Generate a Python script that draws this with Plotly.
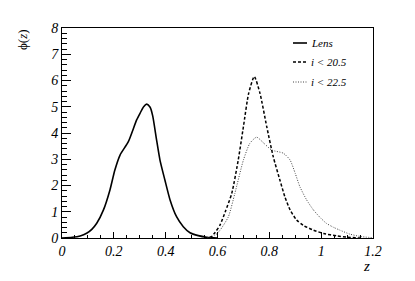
import plotly.graph_objects as go

# ---- data ----
lens_z = [0.0, 0.04, 0.07, 0.095, 0.115, 0.134, 0.16, 0.185, 0.204, 0.224, 0.256, 0.288,
          0.301, 0.315, 0.327, 0.34, 0.35, 0.365, 0.378, 0.397, 0.417, 0.442, 0.468,
          0.494, 0.526, 0.558, 0.6]
lens_phi = [0.0, 0.03, 0.08, 0.18, 0.33, 0.56, 1.07, 1.83, 2.59, 3.16, 3.67, 4.5,
            4.75, 5.0, 5.1, 4.98, 4.65, 3.73, 2.97, 2.21, 1.45, 0.81, 0.43,
            0.2, 0.09, 0.03, 0.0]

i205_z = [0.55, 0.575, 0.59, 0.61, 0.63, 0.655, 0.68, 0.70, 0.72, 0.742, 0.764, 0.79,
          0.815, 0.841, 0.86, 0.88, 0.905, 0.931, 0.97, 1.01, 1.06, 1.1, 1.15]
i205_phi = [0.0, 0.05, 0.2, 0.5, 1.0, 1.7, 2.97, 4.24, 5.5, 6.15, 5.51, 4.24,
            3.1, 2.2, 1.57, 1.07, 0.69, 0.48, 0.3, 0.17, 0.08, 0.03, 0.0]

i225_z = [0.56, 0.59, 0.61, 0.642, 0.667, 0.70, 0.725, 0.751, 0.78, 0.809, 0.854, 0.88,
          0.9, 0.918, 0.944, 0.97, 0.995, 1.02, 1.047, 1.072, 1.11, 1.15, 1.2]
i225_phi = [0.0, 0.1, 0.3, 0.81, 1.7, 2.97, 3.61, 3.84, 3.6, 3.35, 3.23, 2.97,
            2.46, 1.95, 1.45, 1.07, 0.79, 0.56, 0.41, 0.3, 0.15, 0.06, 0.01]

x_tickvals = [0, 0.2, 0.4, 0.6, 0.8, 1.0, 1.2]
x_ticktext = ["0", "0.2", "0.4", "0.6", "0.8", "1", "1.2"]
y_tickvals = [0, 1, 2, 3, 4, 5, 6, 7, 8]
y_ticktext = ["0", "1", "2", "3", "4", "5", "6", "7", "8"]

legend_labels = ["Lens", "i < 20.5", "i < 22.5"]

# ---- figure ----
W, H = 415, 281
L, R, T, B = 62, 42, 28, 43
pw, ph = W - L - R, H - T - B

SERIF = "Liberation Serif"

styles = [
    dict(color="black", width=1.6, dash="solid"),
    dict(color="black", width=1.5, dash="3px,2px"),
    dict(color="#444444", width=1.0, dash="1px,1.5px"),
]

fig = go.Figure()
for (zz, pp), st, name in zip([(lens_z, lens_phi), (i205_z, i205_phi), (i225_z, i225_phi)],
                             styles, legend_labels):
    fig.add_trace(go.Scatter(x=zz, y=pp, mode="lines", name=name,
                             line=dict(shape="spline", smoothing=0.6, **st),
                             showlegend=False, hoverinfo="skip"))

axis_common = dict(
    showgrid=False, zeroline=False, showline=True, linecolor="black", linewidth=1,
    mirror=True, ticks="inside", tickcolor="black",
    tickfont=dict(family=SERIF, size=14, style="italic", color="black"),
)

fig.update_xaxes(range=[0, 1.2], tickvals=x_tickvals,
                 ticktext=["<i>%s</i>" % t for t in x_ticktext],
                 ticklen=6, tickwidth=1,
                 minor=dict(dtick=0.05, ticks="inside", ticklen=3, tickcolor="black"),
                 **axis_common)
fig.update_yaxes(range=[0, 8], tickvals=y_tickvals,
                 ticktext=["<i>%s</i>" % t for t in y_ticktext],
                 ticklen=9, tickwidth=1, ticklabelstandoff=0,
                 minor=dict(dtick=0.2, ticks="inside", ticklen=5, tickcolor="black"),
                 **axis_common)

annotations = [
    dict(text="ϕ(<i>z</i>)", xref="paper", yref="paper",
         x=(22 - L) / pw, y=(H - B - 40) / ph, textangle=-90,
         showarrow=False, xanchor="center", yanchor="middle",
         font=dict(family=SERIF, size=13, color="black")),
    dict(text="<i>z</i>", xref="paper", yref="paper",
         x=(366 - L) / pw, y=(H - B - 266) / ph,
         showarrow=False, xanchor="center", yanchor="middle",
         font=dict(family=SERIF, size=15, style="italic", color="black")),
]

# custom compact legend (samples + italic labels)
shapes = []
leg_y = [43, 62, 82]
for lab, st, yy in zip(legend_labels, styles, leg_y):
    yp = (H - B - yy) / ph
    shapes.append(dict(type="line", xref="paper", yref="paper",
                       x0=(293 - L) / pw, x1=(307 - L) / pw, y0=yp, y1=yp,
                       line=dict(color=st["color"], width=st["width"], dash=st["dash"])))
    annotations.append(dict(text="<i>%s</i>" % lab.replace("<", "&lt;"), xref="paper", yref="paper",
                            x=(309 - L) / pw, y=yp, showarrow=False,
                            xanchor="left", yanchor="middle",
                            font=dict(family=SERIF, size=11, style="italic", color="black")))

fig.update_layout(
    width=W, height=H, margin=dict(l=L, r=R, t=T, b=B),
    paper_bgcolor="white", plot_bgcolor="white",
    font=dict(family=SERIF, color="black"),
    annotations=annotations, shapes=shapes, showlegend=False,
)

fig.write_html("out.html", config={"displayModeBar": False, "staticPlot": True})

# remove the default page margin so the figure sits at the window origin
with open("out.html", "r", encoding="utf-8") as f:
    html = f.read()
html = html.replace("<head>", "<head><style>html,body{margin:0;padding:0;overflow:hidden;}</style>", 1)
with open("out.html", "w", encoding="utf-8") as f:
    f.write(html)
